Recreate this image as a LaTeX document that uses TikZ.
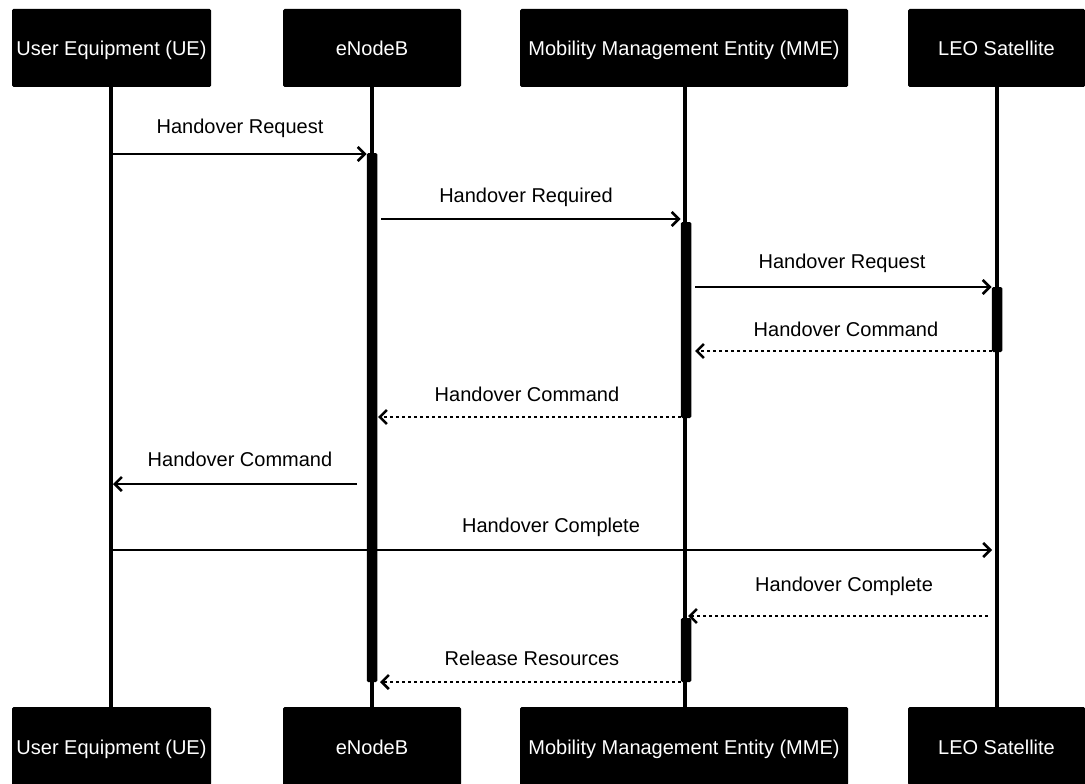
\documentclass[tikz,border=0pt]{standalone}
\usepackage{fontspec}
\setmainfont{Liberation Sans}
\usetikzlibrary{arrows.meta}
\begin{document}
\begin{tikzpicture}[x=1pt,y=-1pt,
  txt/.style={font=\fontsize{20}{24}\selectfont,text height=14.5pt,text depth=4.5pt},
  actor/.style={font=\fontsize{20}{24}\selectfont,text height=17.5pt,text depth=1.5pt,fill=black,text=white,rounded corners=1.5pt,inner xsep=0pt,inner ysep=0pt,minimum height=78pt},
  life/.style={line width=3.4pt},
  actbar/.style={fill=black,rounded corners=1.5pt,minimum width=10.5pt,inner sep=0pt},
  msg/.style={line width=2.8pt,-{Straight Barb[length=7pt,width=14pt,line width=2.6pt]}},
  reply/.style={msg,dash pattern=on 3pt off 3pt},
  lbl/.style={txt,inner sep=0pt}]
\useasboundingbox (0,0) rectangle (1085,784);
% participants top
\node[actor,minimum width=199pt] (ueT) at (111.5,48) {User Equipment (UE)};
\node[actor,minimum width=178pt] (enbT) at (372,48) {eNodeB};
\node[actor,minimum width=328pt] (mmeT) at (684,48) {Mobility Management Entity (MME)};
\node[actor,minimum width=177pt] (leoT) at (996.5,48) {LEO Satellite};
% participants bottom
\node[actor,minimum width=199pt] (ueB) at (111.5,746) {User Equipment (UE)};
\node[actor,minimum width=178pt] (enbB) at (372,746) {eNodeB};
\node[actor,minimum width=328pt] (mmeB) at (684,746) {Mobility Management Entity (MME)};
\node[actor,minimum width=177pt] (leoB) at (996.5,746) {LEO Satellite};
% lifelines
\draw[life] (ueT.south -| 111,0) -- (ueB.north -| 111,0);
\draw[life] (enbT.south) -- (enbB.north);
\draw[life] (mmeT.south -| 685,0) -- (mmeB.north -| 685,0);
\draw[life] (leoT.south -| 997,0) -- (leoB.north -| 997,0);
% activation bars
\node[actbar,minimum height=529pt] (enbA) at (372,417.5) {};
\node[actbar,minimum height=196pt] (mmeA) at (686,320) {};
\node[actbar,minimum height=65pt] (leoA) at (997,319.5) {};
\node[actbar,minimum height=64pt] (mmeA2) at (686,650) {};
% message coordinates
\coordinate (m1s) at (111,154);
\coordinate (m2s) at (381,219);
\coordinate (m3s) at (695,287);
\coordinate (m4s) at (992,351);  \coordinate (m4e) at (695,351);
\coordinate (m5e) at (378,417);
\coordinate (m6s) at (357,484);  \coordinate (m6e) at (113,484);
\coordinate (m7s) at (111,550);  \coordinate (m7e) at (992,550);
\coordinate (m8s) at (988,616);  \coordinate (m8e) at (688,616);
\coordinate (m9e) at (380,682);
% messages
\draw[msg] (m1s) -- (enbA.west |- m1s);
\draw[msg] (m2s) -- (mmeA.west |- m2s);
\draw[msg] (m3s) -- (leoA.west |- m3s);
\draw[reply] (m4s) -- (m4e);
\draw[reply] (mmeA.west |- m5e) -- (m5e);
\draw[msg] (m6s) -- (m6e);
\draw[msg] (m7s) -- (m7e);
\draw[reply] (m8s) -- (m8e);
\draw[reply] (mmeA2.west |- m9e) -- (m9e);
% labels
\node[lbl] (l1) at (240,128) {Handover Request};
\node[lbl] (l2) at (526,197) {Handover Required};
\node[lbl] (l3) at (842,263) {Handover Request};
\node[lbl] (l4) at (846,331) {Handover Command};
\node[lbl] (l5) at (527,396) {Handover Command};
\node[lbl] (l6) at (240,461) {Handover Command};
\node[lbl] (l7) at (551,527) {Handover Complete};
\node[lbl] (l8) at (844,586) {Handover Complete};
\node[lbl] (l9) at (532,660) {Release Resources};
\end{tikzpicture}
\end{document}
